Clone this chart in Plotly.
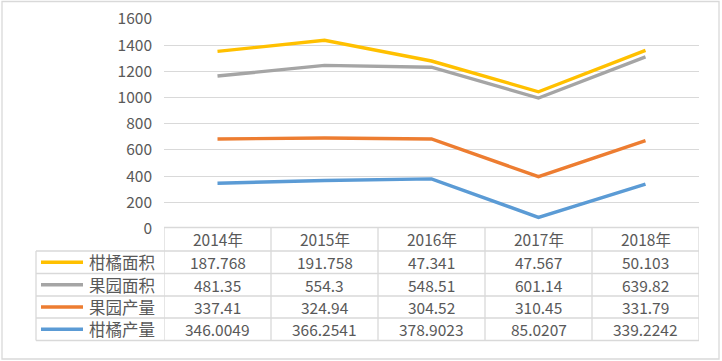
import plotly.graph_objects as go

years = ["2014年", "2015年", "2016年", "2017年", "2018年"]
citrus_area = [187.768, 191.758, 47.341, 47.567, 50.103]
orchard_area = [481.35, 554.3, 548.51, 601.14, 639.82]
orchard_output = [337.41, 324.94, 304.52, 310.45, 331.79]
citrus_output = [346.0049, 366.2541, 378.9023, 85.0207, 339.2242]

series_names = ["柑橘产量", "果园产量", "果园面积", "柑橘面积"]
series_values = [citrus_output, orchard_output, orchard_area, citrus_area]
series_colors = ["#5B9BD5", "#ED7D31", "#A5A5A5", "#FFC000"]

y_ticks = [0, 200, 400, 600, 800, 1000, 1200, 1400, 1600]

W, H = 722, 361
FONT = "Noto Sans CJK SC"
TXT = "#595959"
GRID = "#D9D9D9"
NUM_SIZE = 15.5
CJK_SIZE = 16.5

def py(p):
    return 1 - p / H

def px(p):
    return p / W

fig = go.Figure()
xs = list(range(len(years)))
for name, vals, col in zip(series_names, series_values, series_colors):
    fig.add_trace(go.Scatter(x=xs, y=vals, name=name, mode="lines",
                             stackgroup="s", fill="none",
                             line=dict(color=col, width=3.4)))

plot_left, plot_right = 164, 699
y_top, y_bot = 19, 228.5

shapes = []
annotations = []
tab_left = 36
rows = [227.5, 251, 273.5, 296, 318, 340.5]
shapes.append(dict(type="line", xref="paper", yref="paper", x0=px(plot_left), x1=px(plot_right),
                   y0=py(rows[0]), y1=py(rows[0]), line=dict(color=GRID, width=1.3)))
for r in rows[1:]:
    shapes.append(dict(type="line", xref="paper", yref="paper", x0=px(tab_left), x1=px(plot_right),
                       y0=py(r), y1=py(r), line=dict(color=GRID, width=1.3)))
shapes.append(dict(type="line", xref="paper", yref="paper", x0=px(tab_left), x1=px(tab_left),
                   y0=py(rows[1]), y1=py(rows[-1]), line=dict(color=GRID, width=1.3)))
for i in range(len(years) + 1):
    shapes.append(dict(type="line", xref="x", yref="paper", x0=i - 0.5, x1=i - 0.5,
                       y0=py(rows[0]), y1=py(rows[-1]), line=dict(color=GRID, width=1.3)))
shapes.append(dict(type="rect", xref="paper", yref="paper", x0=px(2), x1=px(719),
                   y0=py(359), y1=py(1.5), line=dict(color=GRID, width=1.3)))

for i, yr in enumerate(years):
    annotations.append(dict(x=i, y=py((rows[0] + rows[1]) / 2), xref="x", yref="paper",
                            text=yr, showarrow=False, font=dict(family=FONT, size=NUM_SIZE, color=TXT),
                            xanchor="center", yanchor="middle"))
table_order = list(range(len(series_names)))[::-1]
for ri, si in enumerate(table_order):
    yc = py((rows[ri + 1] + rows[ri + 2]) / 2)
    shapes.append(dict(type="line", xref="paper", yref="paper", x0=px(41), x1=px(83),
                       y0=yc, y1=yc, line=dict(color=series_colors[si], width=3.4)))
    annotations.append(dict(x=px(87), y=yc, xref="paper", yref="paper", text=series_names[si],
                            showarrow=False, font=dict(family=FONT, size=CJK_SIZE, color=TXT),
                            xanchor="left", yanchor="middle"))
    for i, v in enumerate(series_values[si]):
        annotations.append(dict(x=i, y=yc, xref="x", yref="paper", text=f"{v}",
                                showarrow=False, font=dict(family=FONT, size=NUM_SIZE, color=TXT),
                                xanchor="center", yanchor="middle"))

fig.update_layout(
    width=W, height=H,
    margin=dict(l=0, r=0, t=0, b=0, autoexpand=False),
    paper_bgcolor="white", plot_bgcolor="white",
    showlegend=False,
    xaxis=dict(domain=[px(plot_left), px(plot_right)], range=[-0.5, len(years) - 0.5],
               showgrid=False, showticklabels=False, zeroline=False, showline=False,
               automargin=False, fixedrange=True),
    yaxis=dict(domain=[py(y_bot), py(y_top)], range=[0, 1600], tickvals=y_ticks,
               showgrid=True, gridcolor=GRID, gridwidth=1.3, zeroline=False, showline=False,
               ticklabelstandoff=11, automargin=False,
               tickfont=dict(family=FONT, size=NUM_SIZE, color=TXT), fixedrange=True),
    shapes=shapes, annotations=annotations,
)

fig.write_html("out.html", config={"displayModeBar": False},
               post_script="document.body.style.margin='0';document.body.style.overflow='hidden';")
